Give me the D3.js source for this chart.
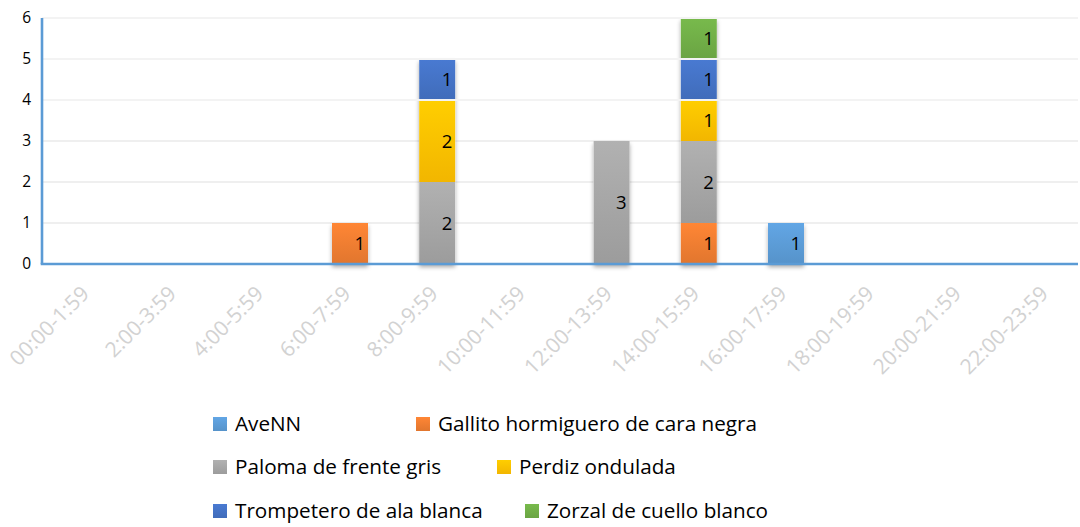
<!DOCTYPE html>
<html>
<head>
<meta charset="utf-8">
<script src="https://cdn.jsdelivr.net/npm/d3@7"></script>
<style>
  body { margin: 0; background: #ffffff; }
  svg { display: block; font-family: "Open Sans", "Noto Sans", sans-serif; }
</style>
</head>
<body>
<script>
const width = 1080;
const height = 527;
const margin = { top: 18, right: 2, bottom: 263, left: 42 };

// categories (2-hour slots)
const categories = ["00:00-1:59", "2:00-3:59", "4:00-5:59", "6:00-7:59", "8:00-9:59", "10:00-11:59",
  "12:00-13:59", "14:00-15:59", "16:00-17:59", "18:00-19:59", "20:00-21:59", "22:00-23:59"];

const seriesNames = ["AveNN", "Gallito hormiguero de cara negra", "Paloma de frente gris",
  "Perdiz ondulada", "Trompetero de ala blanca", "Zorzal de cuello blanco"];

const aveNN      = [0, 0, 0, 0, 0, 0, 0, 0, 1, 0, 0, 0];
const gallito    = [0, 0, 0, 1, 0, 0, 0, 1, 0, 0, 0, 0];
const paloma     = [0, 0, 0, 0, 2, 0, 3, 2, 0, 0, 0, 0];
const perdiz     = [0, 0, 0, 0, 2, 0, 0, 1, 0, 0, 0, 0];
const trompetero = [0, 0, 0, 0, 1, 0, 0, 1, 0, 0, 0, 0];
const zorzal     = [0, 0, 0, 0, 0, 0, 0, 1, 0, 0, 0, 0];

const seriesColors = ["#5B9BD5", "#ED7D31", "#A5A5A5", "#FFC000", "#4472C4", "#70AD47"];
const yTicks = [0, 1, 2, 3, 4, 5, 6];

const axisColor = "#5B9BD5";
const gridColor = "#efefef";

// legend layout: rows of series indexes and their x positions
const legendRows = [[0, 1], [2, 3], [4, 5]];
const legendX = [[213, 416], [213, 497], [213, 525]];
const legendY = [417, 460, 504];

const values = [aveNN, gallito, paloma, perdiz, trompetero, zorzal];
const table = categories.map((c, i) => {
  const row = { cat: c };
  seriesNames.forEach((s, j) => row[s] = values[j][i]);
  return row;
});

const stack = d3.stack().keys(seriesNames);
const layers = stack(table);

const xScale = d3.scaleBand()
  .domain(categories)
  .range([44.8, 1091.2])
  .paddingInner(0.587)
  .paddingOuter(0.2935);

const yScale = d3.scaleLinear()
  .domain([0, 6])
  .range([264, 18]);

const svg = d3.select("body").append("svg")
  .attr("width", width)
  .attr("height", height);

const defs = svg.append("defs");
const shadow = defs.append("filter").attr("id", "shadow")
  .attr("x", "-30%").attr("y", "-10%").attr("width", "160%").attr("height", "130%");
shadow.append("feDropShadow")
  .attr("dx", 0).attr("dy", 3).attr("stdDeviation", 2.2)
  .attr("flood-color", "#000").attr("flood-opacity", 0.35);

seriesColors.forEach((c, i) => {
  const g = defs.append("linearGradient").attr("id", "grad" + i)
    .attr("x1", 0).attr("y1", 0).attr("x2", 0).attr("y2", 1);
  g.append("stop").attr("offset", "0%").attr("stop-color", d3.color(c).brighter(0.2));
  g.append("stop").attr("offset", "100%").attr("stop-color", d3.color(c).darker(0.15));
});

// gridlines
svg.append("g")
  .selectAll("line")
  .data(yTicks.filter(d => d > 0))
  .join("line")
  .attr("x1", margin.left).attr("x2", 1078)
  .attr("y1", d => yScale(d)).attr("y2", d => yScale(d))
  .attr("stroke", gridColor)
  .attr("stroke-width", 2);

// shadows behind each column
const totals = categories.map((c, i) => d3.sum(values, v => v[i]));
svg.append("g")
  .selectAll("rect")
  .data(categories.filter((c, i) => totals[i] > 0))
  .join("rect")
  .attr("x", d => xScale(d))
  .attr("width", xScale.bandwidth())
  .attr("y", d => yScale(totals[categories.indexOf(d)]))
  .attr("height", d => yScale(0) - yScale(totals[categories.indexOf(d)]))
  .attr("fill", "#ffffff")
  .attr("filter", "url(#shadow)");

// stacked bars
const layerG = svg.append("g")
  .selectAll("g")
  .data(layers)
  .join("g")
  .attr("fill", (d, i) => "url(#grad" + i + ")");

layerG.selectAll("rect")
  .data(d => d.filter(p => p[1] - p[0] > 0))
  .join("rect")
  .attr("x", d => xScale(d.data.cat))
  .attr("width", xScale.bandwidth())
  .attr("y", d => yScale(d[1]))
  .attr("height", d => yScale(d[0]) - yScale(d[1]));

// light gridlines that show across the upper part of the bars
svg.append("g")
  .selectAll("line")
  .data(yTicks.filter(d => d >= 4))
  .join("line")
  .attr("x1", margin.left).attr("x2", 1078)
  .attr("y1", d => yScale(d)).attr("y2", d => yScale(d))
  .attr("stroke", "#f3f3f3")
  .attr("stroke-width", 2);

// data labels
layerG.selectAll("text")
  .data(d => d.filter(p => p[1] - p[0] > 0))
  .join("text")
  .attr("x", d => xScale(d.data.cat) + xScale.bandwidth() - 3)
  .attr("y", d => (yScale(d[0]) + yScale(d[1])) / 2)
  .attr("dy", "0.36em")
  .attr("text-anchor", "end")
  .attr("fill", "#000")
  .attr("font-size", 18.5)
  .text(d => d[1] - d[0]);

// y axis
const yAxis = d3.axisLeft(yScale).tickValues(yTicks).tickFormat(d3.format("d")).tickSize(0).tickPadding(11);
const yG = svg.append("g")
  .attr("transform", `translate(${margin.left},0)`)
  .call(yAxis);
yG.select(".domain").remove();
yG.selectAll("text")
  .attr("font-family", "'Open Sans', sans-serif")
  .attr("font-size", 15.5)
  .attr("fill", "#000");

svg.append("line")
  .attr("x1", margin.left).attr("x2", margin.left)
  .attr("y1", yScale(6)).attr("y2", yScale(0))
  .attr("stroke", axisColor).attr("stroke-width", 2.6);

// x axis
const xAxis = d3.axisBottom(xScale).tickSize(0).tickPadding(0);
const xG = svg.append("g")
  .attr("transform", `translate(0,${yScale(0)})`)
  .call(xAxis);
xG.select(".domain").remove();
xG.selectAll("text")
  .attr("font-family", "'Open Sans', sans-serif")
  .attr("font-size", 21)
  .attr("fill", "#d2d2d2")
  .attr("text-anchor", "end")
  .attr("dy", 0)
  .attr("transform", d => `translate(2,31) rotate(-45)`)
  .attr("y", 0).attr("x", 0);

svg.append("line")
  .attr("x1", margin.left - 1.3).attr("x2", 1078)
  .attr("y1", yScale(0)).attr("y2", yScale(0))
  .attr("stroke", axisColor).attr("stroke-width", 2.6);

// legend
const legend = svg.append("g");
legendRows.forEach((row, r) => {
  row.forEach((si, k) => {
    const item = legend.append("g")
      .attr("transform", `translate(${legendX[r][k]},${legendY[r]})`);
    item.append("rect")
      .attr("width", 14).attr("height", 14)
      .attr("fill", `url(#grad${si})`);
    item.append("text")
      .attr("x", 22).attr("y", 7)
      .attr("dy", "0.36em")
      .attr("font-size", 20.7)
      .attr("fill", "#000")
      .text(seriesNames[si]);
  });
});
</script>
</body>
</html>
